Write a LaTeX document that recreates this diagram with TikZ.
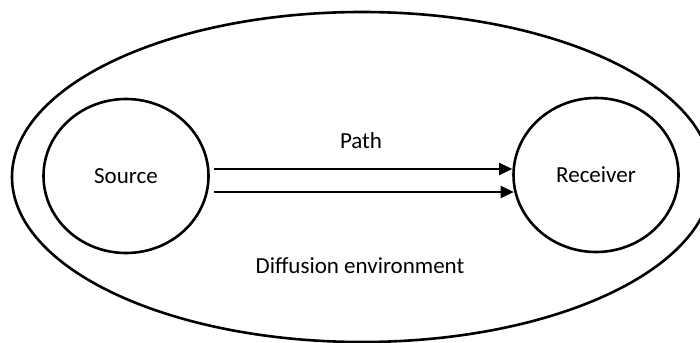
\documentclass[tikz,border=0pt]{standalone}
\usepackage{fontspec}
\setmainfont{Carlito}
\usetikzlibrary{shapes.geometric,arrows.meta}
\begin{document}
\begin{tikzpicture}[x=1pt,y=-1pt,
  lbl/.style={font=\fontsize{23}{28}\selectfont,inner sep=0pt},
  party/.style={draw,line width=2.6pt,ellipse,minimum width=165pt,minimum height=154pt,inner sep=0pt,font=\fontsize{23}{28}\selectfont},
  link/.style={line width=2.4pt,-{Triangle[length=13pt,width=12pt]}}]
\useasboundingbox (0,0) rectangle (700,342);
\draw[line width=2.6pt] (362,177) ellipse [x radius=350, y radius=165];
\node[party] (source) at (126,176) {Source};
\node[party] (receiver) at (596,175) {Receiver};
\coordinate (a1) at ([xshift=4pt,yshift=7pt]source.east);
\coordinate (a2) at ([xshift=4pt,yshift=-16pt]source.east);
\draw[link] (a1) -- (a1 -| receiver.west);
\draw[link] (a2) -- ([xshift=1.5pt]a2 -| receiver.west);
\node[lbl,anchor=base] (path) at (361,148) {Path};
\node[lbl,anchor=base] (env) at (360,273) {Diffusion environment};
\end{tikzpicture}
\end{document}
